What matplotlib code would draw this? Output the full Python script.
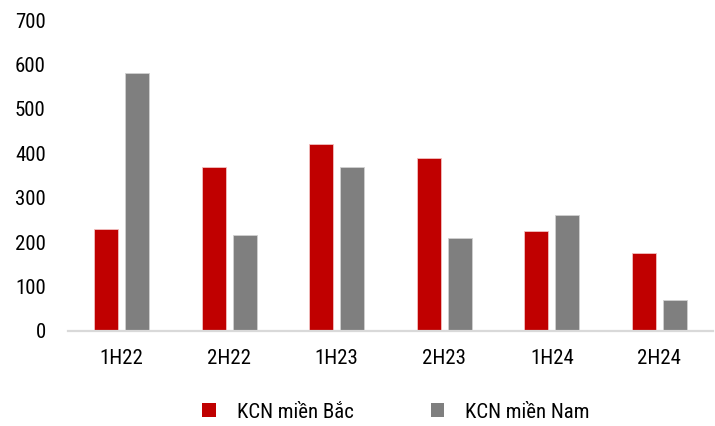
import matplotlib
matplotlib.use("Agg")
import matplotlib.pyplot as plt
import numpy as np

categories = ["1H22", "2H22", "1H23", "2H23", "1H24", "2H24"]
north = [230, 370, 420, 390, 225, 175]
south = [580, 215, 370, 210, 260, 70]
series_names = ["KCN miền Bắc", "KCN miền Nam"]
yticks = [0, 100, 200, 300, 400, 500, 600, 700]

plt.rcParams["font.family"] = ["Roboto Condensed", "DejaVu Sans"]

W, H = 715, 426
fig = plt.figure(figsize=(W / 100, H / 100), dpi=100)
ax = fig.add_axes([68 / W, 1 - 331 / H, (713 - 68) / W, (331 - 20) / H])

x = np.arange(len(categories))
bw = 0.223
gap = 0.065
ax.bar(x - (bw + gap) / 2, north, width=bw, color="#c00000", edgecolor="#f2c0c0",
       linewidth=0.6, label=series_names[0], zorder=2)
ax.bar(x + (bw + gap) / 2, south, width=bw, color="#7f7f7f", edgecolor="#d0d0d0",
       linewidth=0.6, label=series_names[1], zorder=2)

ax.set_xlim(-0.5, len(categories) - 0.5)
ax.set_ylim(0, 700)
ax.set_yticks(yticks)
ax.set_xticks(x)
ax.set_xticklabels(categories)
for s in ["top", "right", "left"]:
    ax.spines[s].set_visible(False)
ax.spines["bottom"].set_color("#d9d9d9")
ax.spines["bottom"].set_linewidth(1.6)
ax.tick_params(axis="y", length=0, pad=16, labelsize=15, labelcolor="#000000")
ax.tick_params(axis="x", length=0, pad=13, labelsize=15, labelcolor="#000000")

leg = fig.legend(loc="center", bbox_to_anchor=(396 / W, 1 - 412 / H), ncol=2, frameon=False,
                 fontsize=15, handlelength=0.65, handleheight=0.65,
                 handletextpad=1.0, columnspacing=3.7)
for h in leg.legend_handles:
    h.set_edgecolor("none")

fig.savefig("out.png", dpi=100)
